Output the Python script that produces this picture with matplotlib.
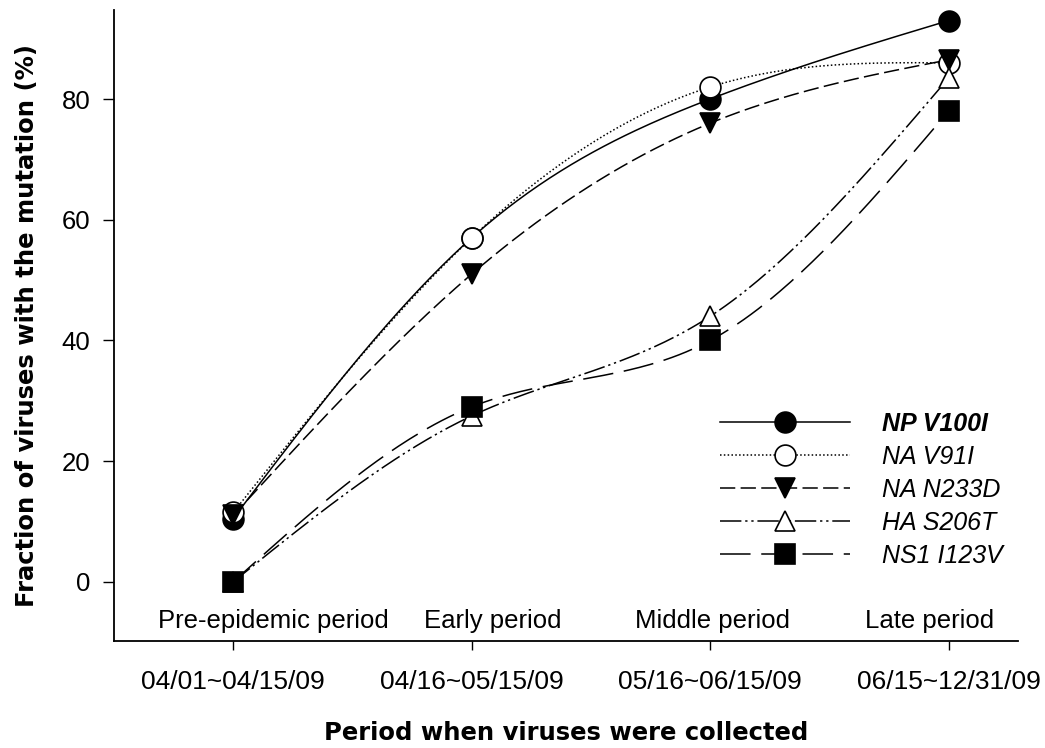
import numpy as np
import matplotlib
matplotlib.use("Agg")
import matplotlib.pyplot as plt
from matplotlib.lines import Line2D

# data
periods = ['Pre-epidemic period', 'Early period', 'Middle period', 'Late period']
period_label_x = [0.17, 1.09, 2.01, 2.92]
date_ranges = ['04/01~04/15/09', '04/16~05/15/09', '05/16~06/15/09', '06/15~12/31/09']
np_v100i = [10.5, 57, 80, 93]
na_v91i = [11.5, 57, 82, 86]
na_n233d = [11, 51, 76, 86.5]
ha_s206t = [0, 27.5, 44, 83.5]
ns1_i123v = [0, 29, 40, 78]

series = [
    ('NP V100I', np_v100i, 'o', 'black', '-', 'bold'),
    ('NA V91I', na_v91i, 'o', 'white', (0, (1, 1.5)), 'normal'),
    ('NA N233D', na_n233d, 'v', 'black', (0, (10, 3.5)), 'normal'),
    ('HA S206T', ha_s206t, '^', 'white', (0, (14, 2.5, 1.5, 2.5, 1.5, 2.5)), 'normal'),
    ('NS1 I123V', ns1_i123v, 's', 'black', (0, (20, 7)), 'normal'),
]


def natural_spline(x, y, n=200):
    """natural cubic spline through the points (smooth line like SigmaPlot)"""
    x = np.asarray(x, float)
    y = np.asarray(y, float)
    k = len(x)
    h = np.diff(x)
    A = np.zeros((k, k))
    b = np.zeros(k)
    A[0, 0] = A[-1, -1] = 1
    for i in range(1, k - 1):
        A[i, i - 1] = h[i - 1]
        A[i, i] = 2 * (h[i - 1] + h[i])
        A[i, i + 1] = h[i]
        b[i] = 3 * ((y[i + 1] - y[i]) / h[i] - (y[i] - y[i - 1]) / h[i - 1])
    c = np.linalg.solve(A, b)
    xs = np.linspace(x[0], x[-1], n)
    ys = np.empty_like(xs)
    for j, xv in enumerate(xs):
        i = min(np.searchsorted(x, xv, side='right') - 1, k - 2)
        bi = (y[i + 1] - y[i]) / h[i] - h[i] * (2 * c[i] + c[i + 1]) / 3
        di = (c[i + 1] - c[i]) / (3 * h[i])
        t = xv - x[i]
        ys[j] = y[i] + bi * t + c[i] * t ** 2 + di * t ** 3
    return xs, ys


plt.rcParams['font.family'] = ['Liberation Sans', 'DejaVu Sans']

fig = plt.figure(figsize=(10.45, 7.48), dpi=100)
ax = fig.add_axes([0.109, 0.143, 0.865, 0.844])

xpos = np.arange(len(periods))
handles = []
for name, vals, mk, fc, ls, fw in series:
    xs, ys = natural_spline(xpos, vals)
    ax.plot(xs, ys, color='black', linestyle=ls, linewidth=1.1, zorder=2)
    ax.plot(xpos, vals, linestyle='none', marker=mk, markersize=15,
            markerfacecolor=fc, markeredgecolor='black', markeredgewidth=1.2, zorder=3)
    handles.append(Line2D([], [], color='black', linestyle=ls, linewidth=1.1,
                          marker=mk, markersize=15, markerfacecolor=fc,
                          markeredgecolor='black', markeredgewidth=1.2))

ax.set_xlim(-0.5, 3.29)
ax.set_ylim(-9.8, 94.8)
ax.set_yticks([0, 20, 40, 60, 80])
ax.set_xticks(xpos)
ax.set_xticklabels(date_ranges, fontsize=19)
ax.tick_params(axis='y', labelsize=18.5, length=8, width=1, direction='out', pad=9)
ax.tick_params(axis='x', length=6.5, width=1, direction='out', pad=14)

for xp, p in zip(period_label_x, periods):
    ax.text(xp, -6.4, p, ha='center', va='center', fontsize=18.5)

for s in ['top', 'right']:
    ax.spines[s].set_visible(False)
for s in ['left', 'bottom']:
    ax.spines[s].set_linewidth(1.3)

ax.set_xlabel('Period when viruses were collected', fontsize=17.5, fontweight='bold',
              family='DejaVu Sans', labelpad=20)
ax.set_ylabel('Fraction of viruses with the mutation (%)', fontsize=17.5, fontweight='bold',
              family='DejaVu Sans', labelpad=16)

leg = fig.legend(handles, [s[0] for s in series], loc='upper left',
                 bbox_to_anchor=(720 / 1045, 1 - 412 / 748), bbox_transform=fig.transFigure,
                 frameon=False, borderpad=0, borderaxespad=0, handlelength=5.2,
                 fontsize=18, labelspacing=0.36, handletextpad=1.3)
for t, s in zip(leg.get_texts(), series):
    t.set_fontstyle('italic')
    t.set_fontweight(s[5])

fig.savefig('out.png', dpi=100)
